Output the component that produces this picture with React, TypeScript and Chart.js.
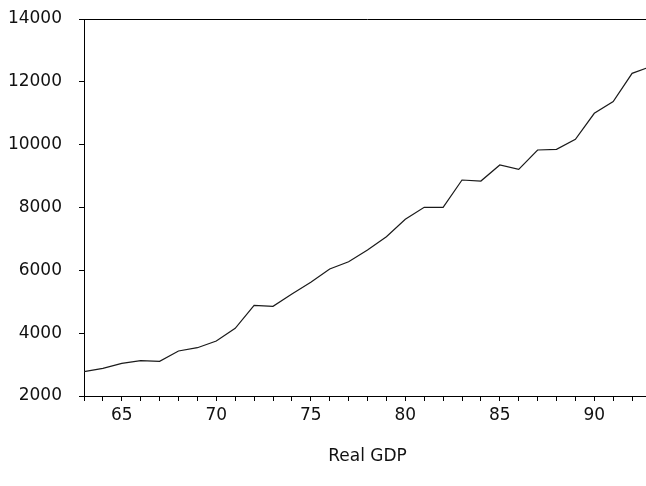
import React, { useEffect, useRef } from "react";
import { Chart, registerables } from "chart.js";

Chart.register(...registerables);

const years = [63, 64, 65, 66, 67, 68, 69, 70, 71, 72, 73, 74, 75, 76, 77, 78, 79, 80, 81, 82, 83, 84, 85, 86, 87, 88, 89, 90, 91, 92, 93];
const realGdp = [2773, 2882, 3041, 3123, 3104, 3432, 3537, 3750, 4155, 4887, 4855, 5247, 5619, 6042, 6275, 6647, 7070, 7624, 8006, 8006, 8875, 8843, 9353, 9215, 9830, 9850, 10170, 10998, 11370, 12270, 12490];
const xLabelYears = [65, 70, 75, 80, 85, 90];
const yTicks = [2000, 4000, 6000, 8000, 10000, 12000, 14000];
const axisTitle = "Real GDP";

const FONT = "'DejaVu Sans', sans-serif";

const topBorder = {
  id: "topBorder",
  afterDraw(chart: any) {
    const { ctx, chartArea } = chart;
    ctx.save();
    ctx.strokeStyle = "#000";
    ctx.lineWidth = 1;
    ctx.beginPath();
    ctx.moveTo(chartArea.left, Math.round(chartArea.top) + 0.5);
    ctx.lineTo(chartArea.right, Math.round(chartArea.top) + 0.5);
    ctx.stroke();
    ctx.restore();
  },
};

export default function App() {
  const ref = useRef<HTMLCanvasElement>(null);
  useEffect(() => {
    if (!ref.current) return;
    const chart = new Chart(ref.current, {
      type: "line",
      data: {
        datasets: [
          {
            label: axisTitle,
            data: years.map((y, i) => ({ x: y, y: realGdp[i] })),
            borderColor: "#1a1a1a",
            borderWidth: 1.2,
            pointRadius: 0,
            tension: 0,
            fill: false,
          },
        ],
      },
      options: {
        animation: false,
        responsive: true,
        maintainAspectRatio: false,
        layout: { padding: { top: 19, right: 0, left: 0, bottom: 0 } },
        plugins: { legend: { display: false }, tooltip: { enabled: false } },
        scales: {
          x: {
            type: "linear",
            min: 63,
            max: 93,
            afterFit: (s: any) => {
              s.height = 90;
              s.paddingLeft = 0;
              s.paddingRight = 0;
            },
            grid: { display: true, drawOnChartArea: false, drawTicks: true, tickLength: 5, color: "#000" },
            border: { display: true, color: "#000", width: 1 },
            ticks: {
              stepSize: 1,
              autoSkip: false,
              maxRotation: 0,
              padding: 4,
              color: "#111",
              font: { family: FONT, size: 17 },
              callback: (v: any) => (xLabelYears.includes(Number(v)) ? String(v) : ""),
            },
            title: {
              display: true,
              text: axisTitle,
              color: "#111",
              font: { family: FONT, size: 17 },
              padding: { top: 0, bottom: 19 },
            },
          },
          y: {
            type: "linear",
            min: 2000,
            max: 14000,
            afterFit: (s: any) => {
              s.width = 84;
              s.paddingTop = 0;
              s.paddingBottom = 0;
            },
            afterBuildTicks: (s: any) => {
              s.ticks = yTicks.map((v) => ({ value: v }));
            },
            grid: { display: true, drawOnChartArea: false, drawTicks: true, tickLength: 5, color: "#000" },
            border: { display: true, color: "#000", width: 1 },
            ticks: {
              padding: 17,
              color: "#111",
              font: { family: FONT, size: 17 },
              callback: (v: any) => String(v),
            },
          },
        },
      },
      plugins: [topBorder],
    });
    return () => chart.destroy();
  }, []);

  return (
    <div style={{ position: "fixed", left: 0, top: 0, width: 646, height: 486, overflow: "hidden", background: "#fff" }}>
      <div style={{ position: "absolute", left: 0, top: 0, width: 651, height: 486 }}>
        <canvas ref={ref} />
      </div>
    </div>
  );
}
